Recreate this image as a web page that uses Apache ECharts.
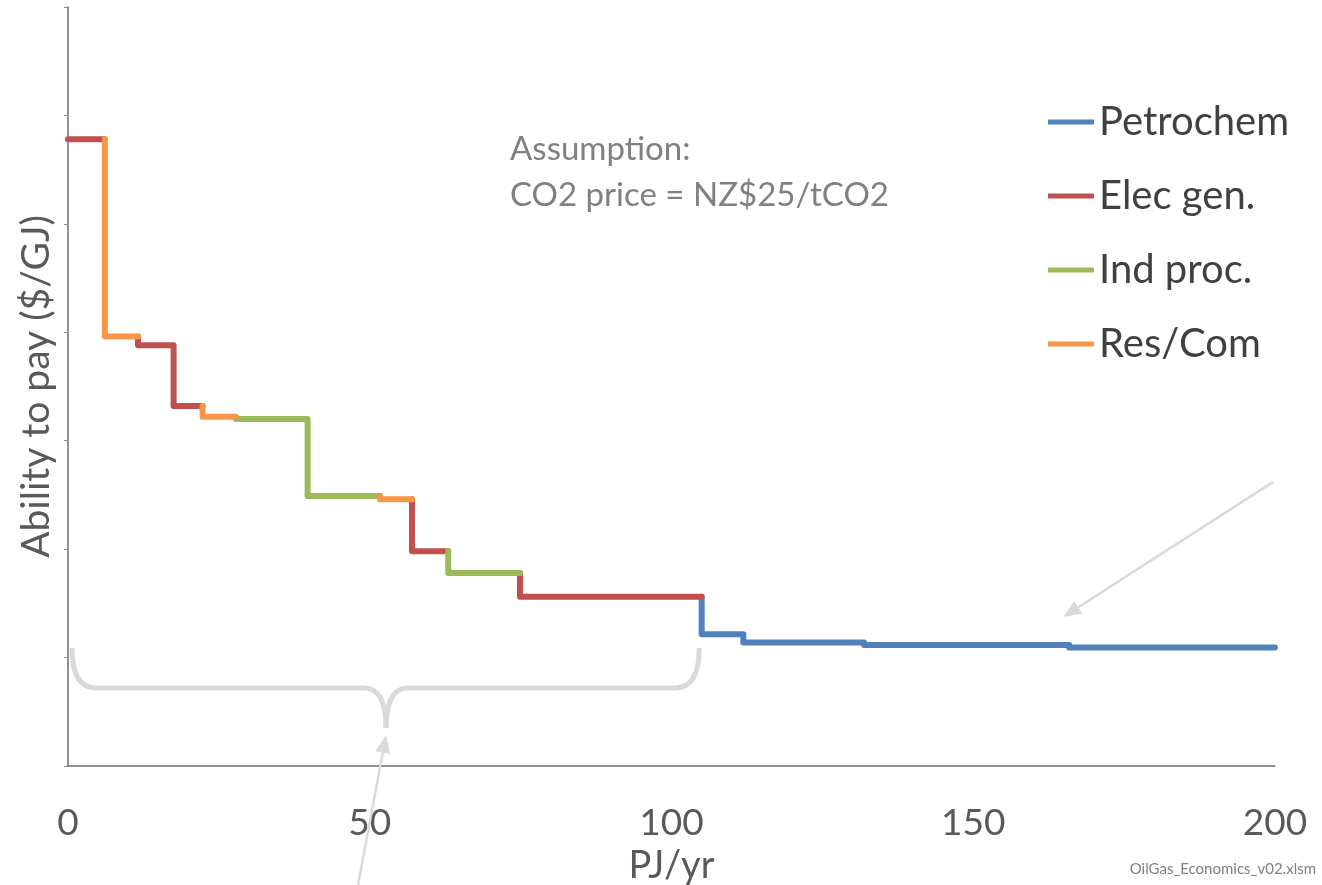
<!DOCTYPE html>
<html><head><meta charset="utf-8">
<script src="https://cdn.jsdelivr.net/npm/echarts@6/dist/echarts.min.js"></script>
<style>html,body{margin:0;padding:0;background:#fff}#c{width:1322px;height:885px}</style>
</head><body><div id="c"></div>
<script>
// ---- data ----
const sectorNames = ['Petrochem', 'Elec gen.', 'Ind proc.', 'Res/Com'];
const sectorColors = ['#4f81bd', '#c0504d', '#9bbb59', '#f79646'];
// cumulative demand (PJ/yr) at the right end of each block
const blockEnds = [6.1, 11.6, 17.5, 22.3, 27.8, 39.7, 51.7, 57.0, 63.0, 74.9, 105.0, 111.9, 131.9, 165.9, 200];
// ability to pay ($/GJ) of each block
const blockValues = [28.9, 19.8, 19.4, 16.6, 16.1, 16.0, 12.45, 12.3, 9.9, 8.9, 7.8, 6.07, 5.7, 5.58, 5.46];
const blockSectors = ['Elec gen.', 'Res/Com', 'Elec gen.', 'Elec gen.', 'Res/Com', 'Ind proc.', 'Ind proc.',
  'Res/Com', 'Elec gen.', 'Ind proc.', 'Elec gen.', 'Petrochem', 'Petrochem', 'Petrochem', 'Petrochem'];
const xTickValues = [0, 50, 100, 150, 200];
const yRange = [0, 35, 5];

// annotation anchors (data space)
const braceAnchor = { left: 0.66, mid: 52.7, right: 104.6, top: 5.44, bar: 3.6, point: 1.75 };
const arrowRight = { from: [199.7, 13.1], to: [164.9, 6.87] };
const arrowBottom = { from: [48.05, -5.49], to: [52.7, 1.43] };

// ---- build series ----
const seriesData = {};
sectorNames.forEach(n => seriesData[n] = []);
blockEnds.forEach((xe, i) => {
  const xs = i === 0 ? 0 : blockEnds[i - 1];
  const v = blockValues[i];
  const prev = i === 0 ? v : blockValues[i - 1];
  const arr = seriesData[blockSectors[i]];
  arr.push([xs, prev], [xs, v], [xe, v], [xe, null]);
});

const chart = echarts.init(document.getElementById('c'), null, { renderer: 'canvas' });
const axisColor = '#6b6b6b';
const option = {
  animation: false,
  grid: { left: 68, right: 47, top: 7, bottom: 119, containLabel: false, outerBoundsMode: 'none' },
  legend: {
    orient: 'vertical', left: 1043, top: 97, itemWidth: 46, itemHeight: 5, itemGap: 34,
    icon: 'rect', data: sectorNames,
    textStyle: { fontSize: 40, fontFamily: 'Lato', color: '#404040', lineHeight: 40 }
  },
  xAxis: {
    type: 'value', min: xTickValues[0], max: xTickValues[xTickValues.length - 1],
    interval: xTickValues[1] - xTickValues[0],
    name: 'PJ/yr', nameLocation: 'middle', nameGap: 76,
    nameTextStyle: { fontSize: 38, fontFamily: 'Lato', color: '#595959' },
    axisLine: { lineStyle: { color: axisColor, width: 1.5 } },
    axisTick: { show: false },
    axisLabel: { fontSize: 37, fontFamily: 'Lato', color: '#595959', margin: 39 },
    splitLine: { show: false }
  },
  yAxis: {
    type: 'value', min: yRange[0], max: yRange[1], interval: yRange[2],
    name: 'Ability to pay ($/GJ)', nameLocation: 'middle', nameGap: 12,
    nameTextStyle: { fontSize: 39, fontFamily: 'Lato', color: '#595959' },
    axisLine: { show: true, lineStyle: { color: axisColor, width: 1.5 } },
    axisTick: { show: true, length: 4, lineStyle: { color: '#8a8a8a' } },
    axisLabel: { show: false },
    splitLine: { show: false }
  },
  series: sectorNames.map((n, k) => ({
    name: n, type: 'line', data: seriesData[n], symbol: 'none', connectNulls: false,
    color: sectorColors[k],
    lineStyle: { width: 6, color: sectorColors[k], cap: 'round', join: 'round' },
    z: 3
  }))
};
chart.setOption(option);

function P(p) { return chart.convertToPixel({ gridIndex: 0 }, p); }
const grey = '#d9d9d9';
function arrowGraphic(a) {
  const s = P(a.from), e = P(a.to);
  const dx = e[0] - s[0], dy = e[1] - s[1], len = Math.hypot(dx, dy);
  const ux = dx / len, uy = dy / len, L = 18, W = 15;
  const bx = e[0] - ux * L, by = e[1] - uy * L;
  return [
    { type: 'line', shape: { x1: s[0], y1: s[1], x2: bx, y2: by }, style: { stroke: grey, lineWidth: 2.5 }, z: 5 },
    { type: 'polygon', shape: { points: [[e[0], e[1]], [bx - uy * W / 2, by + ux * W / 2], [bx + uy * W / 2, by - ux * W / 2]] },
      style: { fill: grey }, z: 5 }
  ];
}
const bl = P([braceAnchor.left, braceAnchor.top]);
const bm = P([braceAnchor.mid, braceAnchor.bar]);
const bp = P([braceAnchor.mid, braceAnchor.point]);
const br = P([braceAnchor.right, braceAnchor.top]);
const yT = bl[1], yH = bm[1], yP = bp[1], xL = bl[0], xM = bm[0], xR = br[0], r = 24, rm = 22;
const bs = { stroke: grey, lineWidth: 5, fill: null };
function quad(x1, y1, cx, cy, x2, y2) {
  return { type: 'bezierCurve', shape: { x1, y1, x2, y2, cpx1: cx, cpy1: cy }, style: bs, z: 4 };
}
function seg(x1, y1, x2, y2) {
  return { type: 'line', shape: { x1, y1, x2, y2 }, style: Object.assign({ lineCap: 'butt' }, bs), z: 4 };
}
const brace = [
  quad(xL, yT, xL, yH, xL + r, yH),
  seg(xL + r, yH, xM - rm, yH),
  quad(xM - rm, yH, xM, yH, xM, yP),
  quad(xM, yP, xM, yH, xM + rm, yH),
  seg(xM + rm, yH, xR - r, yH),
  quad(xR - r, yH, xR, yH, xR, yT)
];

chart.setOption({
  graphic: [
    ...brace,
    ...arrowGraphic(arrowRight),
    ...arrowGraphic(arrowBottom),
    { type: 'text', left: 510, top: 126,
      style: { text: 'Assumption:\nCO2 price = NZ$25/tCO2', font: '33px Lato', fill: '#808080', lineHeight: 46 } },
    { type: 'text', right: 6, top: 862,
      style: { text: 'OilGas_Economics_v02.xlsm', font: '15px Lato', fill: '#7f7f7f' } }
  ]
});
</script></body></html>
